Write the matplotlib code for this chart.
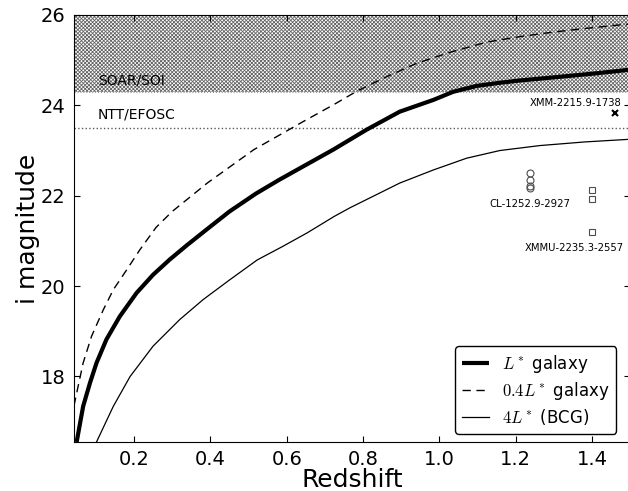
import matplotlib

matplotlib.use("Agg")
import matplotlib.pyplot as plt  # noqa: E402
import numpy as np  # noqa: E402

plt.rcParams["mathtext.fontset"] = "cm"
plt.rcParams["hatch.linewidth"] = 0.6

# L* galaxy track (redshift, i magnitude)
z_lstar = [0.05, 0.067, 0.085, 0.102, 0.128, 0.163, 0.207, 0.25, 0.294, 0.338, 0.39,
           0.45, 0.52, 0.58, 0.635, 0.722, 0.809, 0.896, 0.984, 1.036, 1.097, 1.158,
           1.21, 1.30, 1.40, 1.50]
m_lstar = [16.55, 17.34, 17.86, 18.30, 18.82, 19.33, 19.85, 20.25, 20.59, 20.90, 21.25,
           21.65, 22.05, 22.35, 22.61, 23.02, 23.46, 23.86, 24.12, 24.30, 24.43, 24.50,
           24.55, 24.62, 24.70, 24.79]

# 0.4 L* galaxy track
z_faint = [0.043, 0.052, 0.067, 0.089, 0.12, 0.146, 0.181, 0.216, 0.258, 0.30, 0.392,
           0.514, 0.643, 0.722, 0.783, 0.853, 0.94, 1.03, 1.124, 1.21, 1.297, 1.38,
           1.472, 1.50]
m_faint = [17.35, 17.71, 18.30, 18.89, 19.48, 19.92, 20.36, 20.81, 21.3, 21.65, 22.28,
           23.02, 23.64, 24.01, 24.31, 24.6, 24.93, 25.18, 25.4, 25.52, 25.62, 25.7,
           25.78, 25.8]

# 4 L* (BCG) track
z_bcg = [0.102, 0.146, 0.19, 0.25, 0.32, 0.381, 0.451, 0.523, 0.59, 0.654, 0.724,
         0.765, 0.896, 0.984, 1.071, 1.158, 1.263, 1.38, 1.50]
m_bcg = [16.55, 17.34, 18.0, 18.67, 19.26, 19.70, 20.14, 20.58, 20.88, 21.18, 21.54,
         21.73, 22.28, 22.57, 22.83, 23.0, 23.11, 23.19, 23.25]

# observed clusters
cl1252_z = [1.237, 1.237, 1.237, 1.237]
cl1252_m = [22.51, 22.35, 22.22, 22.17]
xmmu2235_z = [1.399, 1.399, 1.399]
xmmu2235_m = [22.13, 21.93, 21.2]
xmm2215_z = [1.459]
xmm2215_m = [23.83]

soar_limit = 24.3
ntt_limit = 23.5

fig = plt.figure(figsize=(6.28, 4.91), dpi=100)
ax = fig.add_axes([0.1178, 0.0998, 0.886, 0.8697])

xs = np.array([0.043, 1.5])
ax.fill_between(xs, soar_limit, 26, facecolor="white", edgecolor="0.4",
                hatch="xxxxxxxxx", lw=0, zorder=0)
ax.axhline(soar_limit, color="0.6", ls=":", lw=0.8, zorder=1)
ax.axhline(ntt_limit, color="0.35", ls=":", lw=1.0, zorder=1)
ax.text(0.106, 24.56, "SOAR/SOI", fontsize=10, va="center")
ax.text(0.106, 23.79, "NTT/EFOSC", fontsize=10, va="center")

ax.plot(z_lstar, m_lstar, "k-", lw=3, label=r"$L^*$ galaxy", solid_capstyle="butt")
ax.plot(z_faint, m_faint, "k--", lw=1, dashes=(6, 4), label=r"$0.4L^*$ galaxy")
ax.plot(z_bcg, m_bcg, "k-", lw=0.9, label=r"$4L^*$ (BCG)")

ax.plot(cl1252_z, cl1252_m, "o", mfc="none", mec="0.3", ms=5, mew=0.8)
ax.plot(xmmu2235_z, xmmu2235_m, "s", mfc="none", mec="0.3", ms=5, mew=0.8)
ax.plot(xmm2215_z, xmm2215_m, "x", color="k", ms=5, mew=1.5)

ax.text(1.237, 21.82, "CL-1252.9-2927", fontsize=7.3, ha="center", va="center")
ax.text(1.483, 20.85, "XMMU-2235.3-2557", fontsize=7.2, ha="right", va="center")
ax.text(1.477, 24.05, "XMM-2215.9-1738", fontsize=7.2, ha="right", va="center")

ax.set_xlim(0.043, 1.5)
ax.set_ylim(16.55, 26)
ax.set_xticks([0.2, 0.4, 0.6, 0.8, 1.0, 1.2, 1.4])
ax.set_yticks([18, 20, 22, 24, 26])
ax.tick_params(direction="in", labelsize=14, length=4, top=True, right=True, pad=6)
ax.set_xlabel("Redshift", fontsize=18, labelpad=-1)
ax.set_ylabel("i magnitude", fontsize=18, labelpad=1)

ax.legend(loc="lower right", fontsize=12, fancybox=True, framealpha=1,
          edgecolor="k", handlelength=1.6, borderaxespad=0.5, labelspacing=0.3,
          borderpad=0.4, bbox_to_anchor=(0.99, 0.0))

fig.savefig("out.png", dpi=100)
